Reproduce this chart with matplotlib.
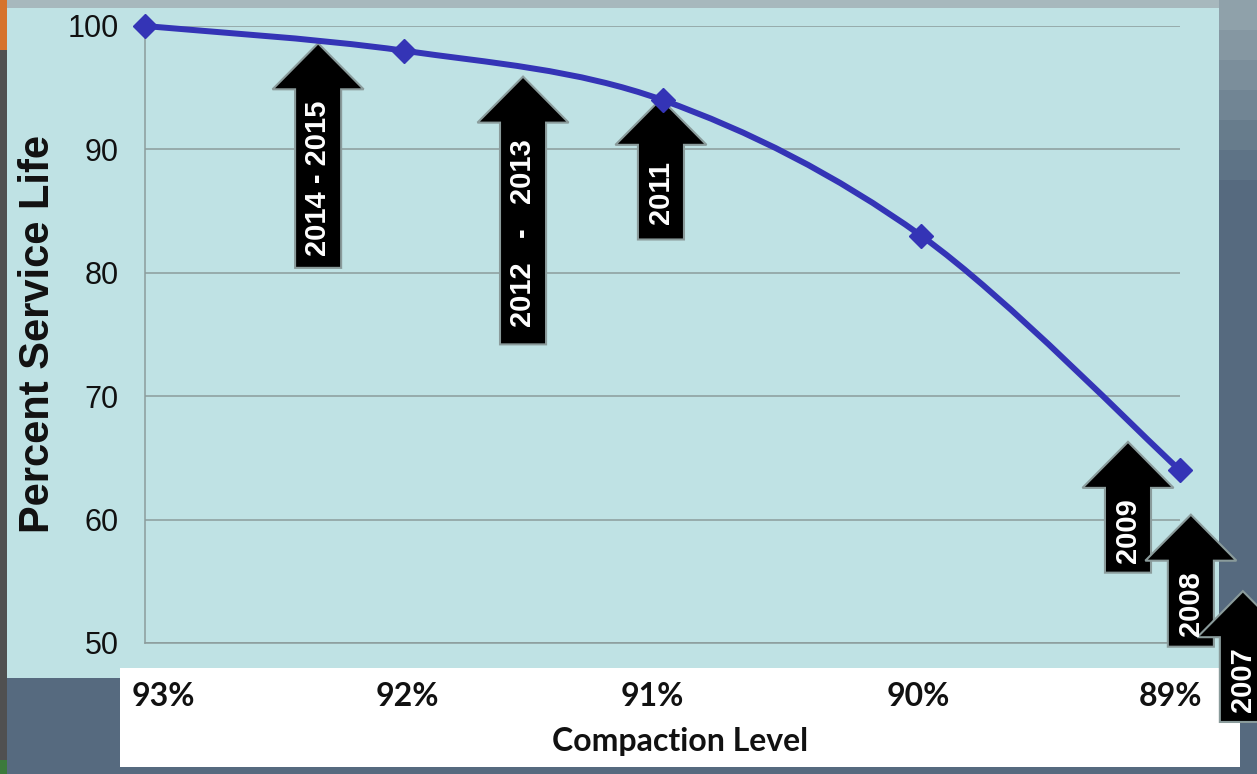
import numpy as np
import matplotlib
matplotlib.use("Agg")
import matplotlib.pyplot as plt
from matplotlib.patches import Rectangle, Polygon, PathPatch
from matplotlib.path import Path

# chart data
levels = ["93%", "92%", "91%", "90%", "89%"]
service_life = [100, 98, 94, 83, 64]

# arrow annotations (data coords: category index / percent)
arrow_labels = ["2014 - 2015", "2012   -   2013", "2011", "2009", "2008", "2007"]
arrow_tip_x = [0.669, 1.461, 1.994, 3.799, 4.042, 4.243]
arrow_tip_y = [98.6, 95.9, 94.1, 66.3, 60.4, 54.2]
arrow_base_y = [80.4, 74.2, 82.7, 55.7, 49.7, 43.6]

W, H = 1257, 774
fig = plt.figure(figsize=(W / 100, H / 100), dpi=100)
fig.patch.set_facecolor("#566a7f")


def frect(x0, y0, x1, y1, color):
    # rectangle in pixel coords, origin top-left
    fig.patches.append(Rectangle((x0 / W, 1 - y1 / H), (x1 - x0) / W, (y1 - y0) / H,
                                 transform=fig.transFigure, facecolor=color,
                                 edgecolor="none", zorder=-5))


# slide background pieces
frect(0, 0, W, 9, "#a7b8bd")
grad = ["#8fa1aa", "#8597a2", "#7b8e9b", "#718594", "#677c8c", "#5e7386"]
for k, c in enumerate(grad):
    frect(1219, k * 30, W, (k + 1) * 30, c)
frect(0, 0, 7, H, "#505050")
frect(0, 0, 7, 50, "#d6732c")
frect(0, 760, 7, H, "#3c7a3c")
frect(7, 8, 1219, 678, "#bfe2e4")
frect(120, 668, 1240, 767, "#ffffff")

# axes placed in pixel terms
left, right, top, bottom = 145, 1180, 26, 643
ax = fig.add_axes([left / W, 1 - bottom / H, (right - left) / W, (bottom - top) / H])
ax.set_zorder(1)
ax.set_facecolor("#bfe2e4")
ax.set_xlim(0, len(levels) - 1)
ax.set_ylim(50, 100)
ax.set_yticks([50, 60, 70, 80, 90, 100])
ax.set_xticks([])
ax.grid(axis="y", color="#8c9c9c", linewidth=1.1, zorder=0)
ax.set_axisbelow(True)
for s in ["top", "right"]:
    ax.spines[s].set_visible(False)
for s in ["left", "bottom"]:
    ax.spines[s].set_color("#8c9c9c")
    ax.spines[s].set_linewidth(1.1)
ax.tick_params(axis="y", length=0, pad=19, labelsize=22, labelcolor="#111111")
for lab in ax.get_yticklabels():
    lab.set_family("Liberation Sans")

ax.set_ylabel("Percent Service Life", fontsize=30, fontweight="bold",
              family="Liberation Sans", labelpad=7, color="#111111")

# arrows
sx = 0.089
hx = 0.176
hl = 3.73
for lab, tx, ty, by in zip(arrow_labels, arrow_tip_x, arrow_tip_y, arrow_base_y):
    hy = ty - hl
    pts = [(tx - sx, by), (tx + sx, by), (tx + sx, hy), (tx + hx, hy),
           (tx, ty), (tx - hx, hy), (tx - sx, hy)]
    ax.add_patch(Polygon(pts, closed=True, facecolor="black", edgecolor="#8a9b9b",
                         linewidth=1.5, zorder=3, clip_on=False))
    ax.text(tx, (hy + by) / 2, lab, rotation=90, ha="center", va="center",
            color="white", fontsize=21, fontweight="bold",
            family="Liberation Sans", zorder=4, clip_on=False)

# smoothed line (Excel-style Catmull-Rom bezier)
xs = np.arange(len(levels), dtype=float)
ys = np.array(service_life, dtype=float)
P = np.column_stack([xs, ys])
Pext = np.vstack([P[0], P, P[-1]])
verts = [P[0]]
codes = [Path.MOVETO]
for i in range(len(P) - 1):
    p0, p1, p2, p3 = Pext[i], Pext[i + 1], Pext[i + 2], Pext[i + 3]
    verts += [p1 + (p2 - p0) / 6, p2 - (p3 - p1) / 6, p2]
    codes += [Path.CURVE4] * 3
ax.add_patch(PathPatch(Path(verts, codes), facecolor="none", edgecolor="#3434b6",
                       linewidth=4.3, zorder=5, clip_on=False, capstyle="round"))
ax.plot(xs, ys, linestyle="none", marker="D", markersize=12, color="#3434b6",
        zorder=6, clip_on=False)

# x labels in the white box
label_px = [163, 407, 652, 918, 1170]
for lab, px in zip(levels, label_px):
    fig.text(px / W, 1 - 697 / H, lab, ha="center", va="center", fontsize=23,
             fontweight="bold", family="Lato", color="#111111", zorder=2)
fig.text(680 / W, 1 - 741 / H, "Compaction Level", ha="center", va="center",
         fontsize=23, fontweight="bold", family="Lato", color="#111111", zorder=2)

fig.savefig("out.png", dpi=100, facecolor=fig.get_facecolor())
